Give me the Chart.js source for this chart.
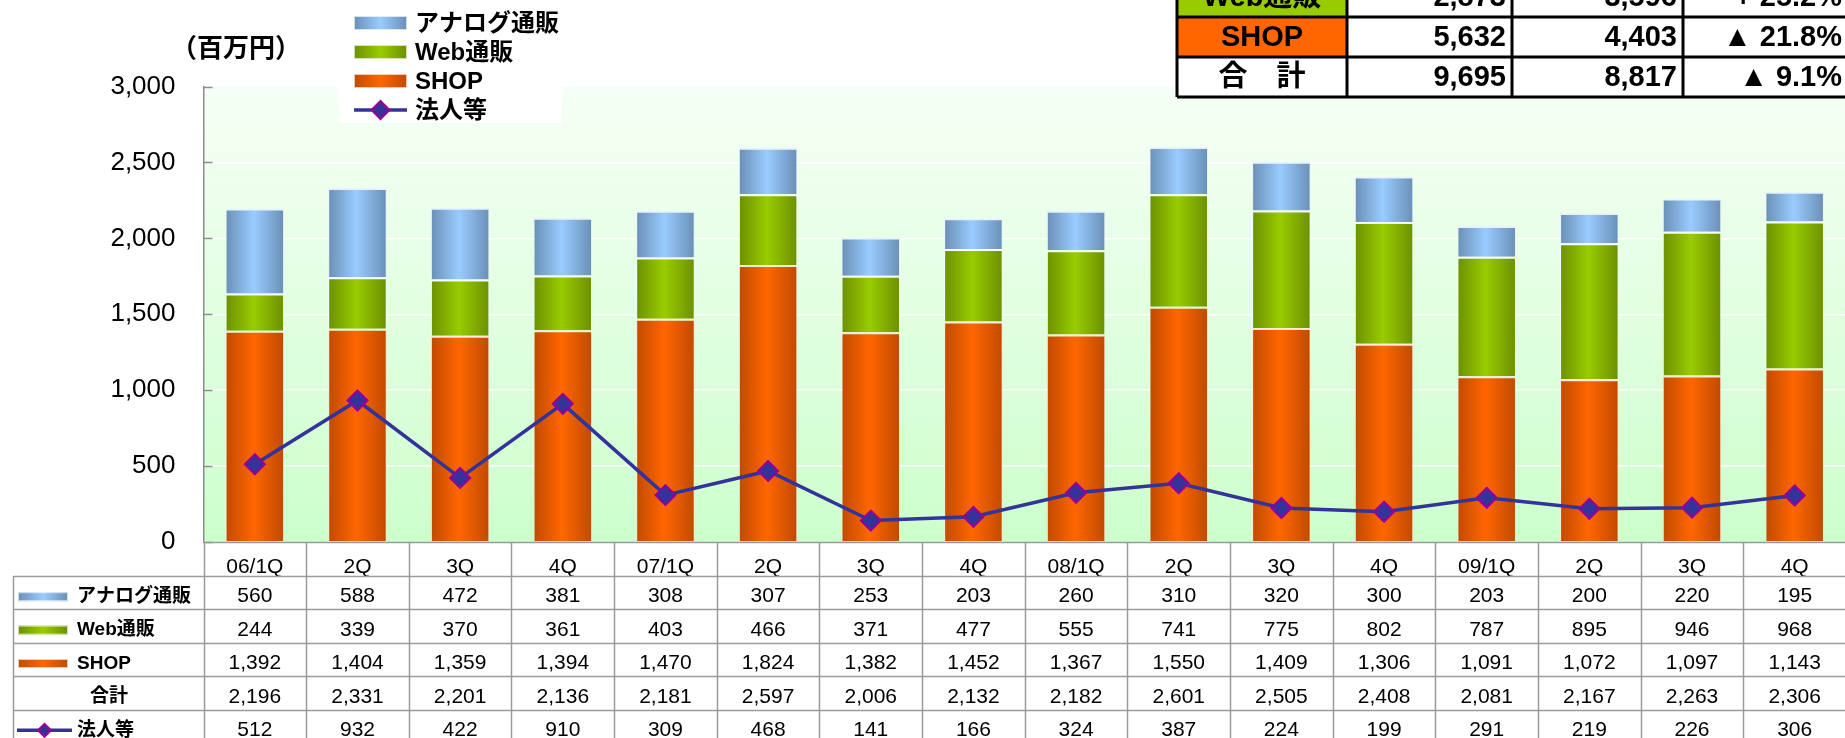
<!DOCTYPE html>
<html lang="ja">
<head>
<meta charset="utf-8">
<title>販売チャネル別 売上高推移</title>
<script src="https://cdn.jsdelivr.net/npm/chart.js@4.4.1/dist/chart.umd.min.js"></script>
<style>
    html, body { margin: 0; padding: 0; background: #fff; overflow: hidden; }
    #wrap { position: relative; width: 1845px; height: 738px; overflow: hidden; }
    #c { position: absolute; left: 0; top: 0; }
</style>
</head>
<body>
<div id="wrap">
    <canvas id="c" width="1858" height="738"></canvas>
</div>
<script>
const categories = ['06/1Q', '2Q', '3Q', '4Q', '07/1Q', '2Q', '3Q', '4Q', '08/1Q', '2Q', '3Q', '4Q', '09/1Q', '2Q', '3Q', '4Q'];
const analog = [560, 588, 472, 381, 308, 307, 253, 203, 260, 310, 320, 300, 203, 200, 220, 195];
const web = [244, 339, 370, 361, 403, 466, 371, 477, 555, 741, 775, 802, 787, 895, 946, 968];
const shop = [1392, 1404, 1359, 1394, 1470, 1824, 1382, 1452, 1367, 1550, 1409, 1306, 1091, 1072, 1097, 1143];
const totals = [2196, 2331, 2201, 2136, 2181, 2597, 2006, 2132, 2182, 2601, 2505, 2408, 2081, 2167, 2263, 2306];
const houjin = [512, 932, 422, 910, 309, 468, 141, 166, 324, 387, 224, 199, 291, 219, 226, 306];

// yearly summary box (top right, partly cut off)
const sumLabels = ['Web通販', 'SHOP', '合　計'];
const sum2008 = [2873, 5632, 9695];
const sum2009 = [3596, 4403, 8817];
const sumChange = ['+ 25.2%', '▲ 21.8%', '▲ 9.1%'];

const FONT = '"Liberation Sans", Arial, "Noto Sans CJK JP", sans-serif';
const JFONT = '"Liberation Sans", "Noto Sans CJK JP", sans-serif';
const barPct = 0.57;

const colors = {
    analog: { edge: '#6a8fb6', mid: '#99ccff' },
    web: { edge: '#6b9000', mid: '#99cc00' },
    shop: { edge: '#c04a00', mid: '#ff6600' }
};

Chart.defaults.font.family = FONT;
Chart.defaults.color = '#000';

function barFill(key) {
    return function (ctx) {
        const chart = ctx.chart;
        const area = chart.chartArea;
        if (!area) return colors[key].mid;
        const x = chart.scales.x.getPixelForValue(ctx.dataIndex);
        const w = (area.right - area.left) / categories.length * barPct;
        const g = chart.ctx.createLinearGradient(x - w / 2, 0, x + w / 2, 0);
        g.addColorStop(0, colors[key].edge);
        g.addColorStop(0.48, colors[key].mid);
        g.addColorStop(1, colors[key].edge);
        return g;
    };
}

function swatch(ctx, key, x1, x2, y, h) {
    const gh = ctx.createLinearGradient(x1, 0, x2, 0);
    gh.addColorStop(0, colors[key].edge);
    gh.addColorStop(0.5, colors[key].mid);
    gh.addColorStop(1, colors[key].edge);
    ctx.fillStyle = gh;
    ctx.fillRect(x1, y - h / 2, x2 - x1, h);
    ctx.strokeStyle = 'rgba(255,255,255,0.7)';
    ctx.lineWidth = 1;
    ctx.strokeRect(x1 + 0.5, y - h / 2 + 0.5, x2 - x1 - 1, h - 1);
}

function diamond(ctx, x, y, r) {
    ctx.beginPath();
    ctx.moveTo(x - r, y);
    ctx.lineTo(x, y - r);
    ctx.lineTo(x + r, y);
    ctx.lineTo(x, y + r);
    ctx.closePath();
    ctx.fillStyle = '#333399';
    ctx.fill();
    ctx.strokeStyle = '#990099';
    ctx.lineWidth = 2;
    ctx.stroke();
}

function lineSwatch(ctx, x1, x2, y, r) {
    ctx.strokeStyle = '#333399';
    ctx.lineWidth = 3.5;
    ctx.beginPath();
    ctx.moveTo(x1, y);
    ctx.lineTo(x2, y);
    ctx.stroke();
    diamond(ctx, (x1 + x2) / 2, y, r);
}

const fmt = v => v.toLocaleString('en-US');

const decorPlugin = {
    id: 'decor',
    beforeDraw(chart) {
        const { ctx, chartArea: a } = chart;
        const g = ctx.createLinearGradient(0, a.top, 0, a.bottom);
        g.addColorStop(0, '#f6fff6');
        g.addColorStop(1, '#ccffcc');
        ctx.save();
        ctx.fillStyle = g;
        ctx.fillRect(a.left, a.top, a.right - a.left, a.bottom - a.top);
        ctx.restore();
    },
    afterDraw(chart) {
        const { ctx, chartArea: a } = chart;
        const yScale = chart.scales.y;
        ctx.save();

        // inward tick marks on the value axis
        ctx.strokeStyle = '#8c8c8c';
        ctx.lineWidth = 1.5;
        yScale.ticks.forEach(t => {
            const y = Math.round(yScale.getPixelForValue(t.value)) + 0.5;
            ctx.beginPath();
            ctx.moveTo(a.left, y);
            ctx.lineTo(a.left + 9, y);
            ctx.stroke();
        });

        // unit label
        ctx.fillStyle = '#000';
        ctx.font = 'bold 26px "Noto Sans CJK JP", sans-serif';
        ctx.textAlign = 'center';
        ctx.textBaseline = 'middle';
        ctx.fillText('（百万円）', 236, 47);

        // legend box
        ctx.fillStyle = '#fff';
        ctx.fillRect(339, 0, 223, 123);
        const legendItems = [
            { label: 'アナログ通販', key: 'analog' },
            { label: 'Web通販', key: 'web' },
            { label: 'SHOP', key: 'shop' },
            { label: '法人等', key: 'line' }
        ];
        legendItems.forEach((it, i) => {
            const y = 23 + i * 29;
            if (it.key === 'line') lineSwatch(ctx, 354, 407, y, 9);
            else swatch(ctx, it.key, 354, 407, y, 14);
            ctx.fillStyle = '#000';
            ctx.font = 'bold 24px ' + JFONT;
            ctx.textAlign = 'left';
            ctx.textBaseline = 'middle';
            ctx.fillText(it.label, 415, y + 1);
        });

        // data table under the plot
        const colW = (a.right - a.left) / categories.length;
        const catBot = a.bottom + 34;
        const rowH = 33.4;
        const tableLeft = 13;
        const bottom = chart.height;
        ctx.strokeStyle = '#9a9a9a';
        ctx.lineWidth = 1.5;
        ctx.beginPath();
        ctx.moveTo(a.left, a.bottom + 0.5);
        ctx.lineTo(a.right, a.bottom + 0.5);
        for (let i = 0; i < 6; i++) {
            const y = Math.round(catBot + i * rowH) + 0.5;
            ctx.moveTo(tableLeft, y);
            ctx.lineTo(a.right, y);
        }
        for (let k = 0; k <= categories.length; k++) {
            const x = Math.round(a.left + k * colW) + 0.5;
            ctx.moveTo(x, a.bottom);
            ctx.lineTo(x, bottom);
        }
        ctx.moveTo(tableLeft + 0.5, catBot);
        ctx.lineTo(tableLeft + 0.5, bottom);
        ctx.stroke();

        const tableRows = [
            { label: 'アナログ通販', values: analog, key: 'analog' },
            { label: 'Web通販', values: web, key: 'web' },
            { label: 'SHOP', values: shop, key: 'shop' },
            { label: '合計', values: totals, key: null },
            { label: '法人等', values: houjin, key: 'line' }
        ];
        tableRows.forEach((row, r) => {
            const cy = catBot + r * rowH + rowH / 2 + 4;
            if (row.key === 'line') lineSwatch(ctx, 17, 72, cy, 6.5);
            else if (row.key) swatch(ctx, row.key, 18, 68, cy, 9);
            ctx.fillStyle = '#000';
            ctx.font = 'bold 19px ' + JFONT;
            ctx.textBaseline = 'middle';
            if (row.key) {
                ctx.textAlign = 'left';
                ctx.fillText(row.label, 77, cy);
            } else {
                ctx.textAlign = 'center';
                ctx.fillText(row.label, 109, cy);
            }
            ctx.font = '21px ' + FONT;
            ctx.textAlign = 'center';
            row.values.forEach((v, i) => {
                ctx.fillText(fmt(v), chart.scales.x.getPixelForValue(i), cy);
            });
        });

        // yearly summary box
        const sx = [1177, 1347, 1512, 1683, 1852];
        const sy = [-23, 17, 57, 97];
        const fills = ['#99cc00', '#ff6600', '#ffffff'];
        sumLabels.forEach((lab, r) => {
            ctx.fillStyle = fills[r];
            ctx.fillRect(sx[0], sy[r], sx[1] - sx[0], sy[r + 1] - sy[r]);
            ctx.fillStyle = '#fff';
            ctx.fillRect(sx[1], sy[r], sx[4] - sx[1], sy[r + 1] - sy[r]);
        });
        ctx.strokeStyle = '#000';
        ctx.lineWidth = 3;
        ctx.beginPath();
        sy.forEach(y => { ctx.moveTo(sx[0], y); ctx.lineTo(sx[4], y); });
        sx.forEach(x => { ctx.moveTo(x, sy[0]); ctx.lineTo(x, sy[3]); });
        ctx.stroke();
        ctx.fillStyle = '#000';
        ctx.textBaseline = 'middle';
        sumLabels.forEach((lab, r) => {
            const cy = (sy[r] + sy[r + 1]) / 2 + 1;
            ctx.font = 'bold 29px ' + JFONT;
            ctx.textAlign = 'center';
            ctx.fillText(lab, (sx[0] + sx[1]) / 2, cy);
            ctx.textAlign = 'right';
            ctx.fillText(fmt(sum2008[r]), sx[2] - 6, cy);
            ctx.fillText(fmt(sum2009[r]), sx[3] - 6, cy);
            ctx.fillText(sumChange[r], 1842, cy);
        });

        ctx.restore();
    }
};

const barBorder = { top: 2, left: 1, right: 1, bottom: 0 };

new Chart(document.getElementById('c'), {
    type: 'bar',
    data: {
        labels: categories,
        datasets: [
            {
                type: 'line', label: '法人等', data: houjin, order: 0, stack: 'houjin',
                borderColor: '#333399', borderWidth: 3.5, tension: 0,
                pointStyle: 'rectRot', pointRadius: 10, pointHoverRadius: 10,
                pointBackgroundColor: '#333399', pointBorderColor: '#990099', pointBorderWidth: 2
            },
            {
                label: 'SHOP', data: shop, order: 1, stack: 'sales',
                backgroundColor: barFill('shop'), borderColor: 'rgba(255,230,210,0.8)', borderWidth: barBorder
            },
            {
                label: 'Web通販', data: web, order: 1, stack: 'sales',
                backgroundColor: barFill('web'), borderColor: 'rgba(255,255,255,0.75)', borderWidth: barBorder
            },
            {
                label: 'アナログ通販', data: analog, order: 1, stack: 'sales',
                backgroundColor: barFill('analog'), borderColor: 'rgba(230,240,255,0.85)', borderWidth: barBorder
            }
        ]
    },
    options: {
        responsive: false,
        devicePixelRatio: 1,
        animation: false,
        layout: { padding: { top: 86.5, left: 0, right: 0, bottom: 0 } },
        datasets: { bar: { barPercentage: barPct, categoryPercentage: 1 } },
        plugins: { legend: { display: false }, tooltip: { enabled: false } },
        scales: {
            x: {
                stacked: true,
                grid: { display: false },
                border: { display: false },
                ticks: { font: { size: 21 }, padding: 5, maxRotation: 0, autoSkip: false },
                afterFit: s => { s.height = 196; }
            },
            y: {
                stacked: true,
                min: 0, max: 3000,
                ticks: { stepSize: 500, font: { size: 26 }, padding: 28, callback: v => fmt(v) },
                grid: {
                    drawTicks: false,
                    lineWidth: 1.5,
                    color: c => (c.tick && (c.tick.value === 0 || c.tick.value === 3000)) ? 'rgba(0,0,0,0)' : 'rgba(255,255,255,0.95)'
                },
                border: { display: true, color: '#8c8c8c', width: 1.5 },
                afterFit: s => { s.width = 203.5; }
            }
        }
    },
    plugins: [decorPlugin]
});
</script>
</body>
</html>
